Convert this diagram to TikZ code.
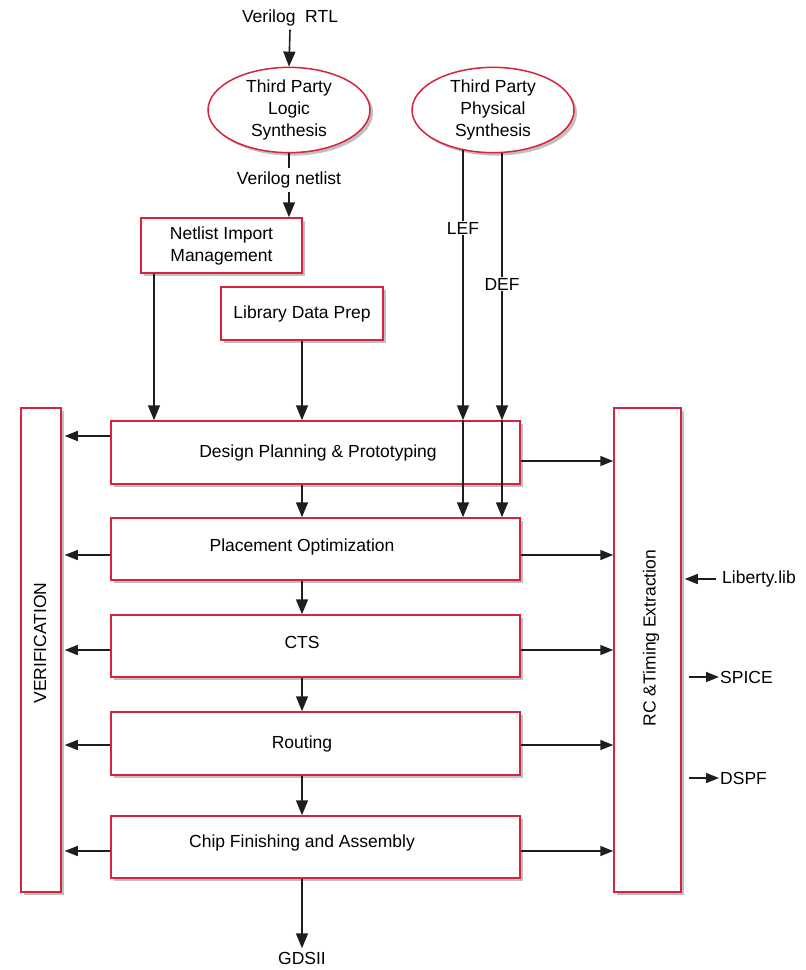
\documentclass[tikz,border=0pt]{standalone}
\usepackage{fontspec}
\setmainfont{Liberation Sans}
\usetikzlibrary{shapes.geometric,shadows,arrows.meta}
\definecolor{boxred}{RGB}{215,35,60}
\definecolor{inkk}{RGB}{30,30,30}
\begin{document}
\begin{tikzpicture}[x=1pt,y=-1pt,
  font=\fontsize{17.5}{22}\selectfont,
  shadowed/.style={drop shadow={shadow xshift=3pt,shadow yshift=-3pt,fill=black!45,opacity=0.55}},
  redbox/.style={draw=boxred,line width=1.5pt,fill=white,shadowed,inner sep=0pt},
  redell/.style={ellipse,draw=boxred,line width=1.5pt,fill=white,shadowed,inner sep=0pt,align=center},
  lbl/.style={inner sep=1pt,fill=white},
  arr/.style={-{Triangle[length=15pt,width=12pt]},line width=1.6pt,draw=inkk},
  sarr/.style={-{Triangle[length=13pt,width=10pt]},line width=1.6pt,draw=inkk},
  ln/.style={line width=1.6pt,draw=inkk}]
\useasboundingbox (0,0) rectangle (806,970);
% top
\node (vrtl) at (290,18) {Verilog\ \ RTL};
\node[redell,minimum width=162pt,minimum height=80pt] (ls) at (289,110) {Third Party\\Logic\\Synthesis};
\node[redell,minimum width=162pt,minimum height=80pt] (ps) at (493,110) {Third Party\\Physical\\Synthesis};
\node (vnet) at (289,180) {Verilog netlist};
\node[redbox,minimum width=161pt,minimum height=55pt,align=center] (ni) at (221.5,245.5) {Netlist Import\\Management};
\node[redbox,minimum width=162pt,minimum height=53pt] (ldp) at (302,313.5) {Library Data Prep};
% side boxes
\node[redbox,minimum width=40pt,minimum height=484pt] (ver) at (41,650) {};
\node[rotate=90] at (40,643) {VERIFICATION};
\node[redbox,minimum width=67pt,minimum height=484pt] (rc) at (647.5,650) {};
\node[rotate=90] at (651,638) {RC \&Timing Extraction};
% main boxes
\node[redbox,minimum width=409pt,minimum height=63pt] (dp) at (315.5,452.5) {};
\node at (318,453) {Design Planning \& Prototyping};
\node[redbox,minimum width=409pt,minimum height=62pt] (po) at (315.5,549) {};
\node at (302,547) {Placement Optimization};
\node[redbox,minimum width=409pt,minimum height=62pt] (cts) at (315.5,646) {};
\node at (302,642) {CTS};
\node[redbox,minimum width=409pt,minimum height=63pt] (rt) at (315.5,743.5) {};
\node at (302,744) {Routing};
\node[redbox,minimum width=409pt,minimum height=62pt] (cf) at (315.5,847) {};
\node at (302,843) {Chip Finishing and Assembly};
\node (gds) at (302,958) {GDSII};
% right labels
\node[anchor=west,inner sep=0pt] (lib) at (722,579) {Liberty.lib};
\node[anchor=west,inner sep=0pt] (spice) at (720,677) {SPICE};
\node[anchor=west,inner sep=0pt] (dspf) at (720,778) {DSPF};
% top connectors
\draw[arr] (vrtl.south) -- (ls.north);
\draw[ln] (ls.south) -- (vnet.north);
\draw[arr] (vnet.south) -- (vnet.south |- ni.north);
\draw[arr] (ni.south -| 154,0) -- (dp.north -| 154,0);
\draw[arr] (ldp.south -| 302,0) -- (dp.north -| 302,0);
% LEF / DEF
\draw[arr] (ps.231 -| 463,0) -- node[lbl,pos=0.29] (lef) {LEF} (dp.north -| 463,0);
\draw[arr] (dp.north -| 463,0) -- (po.north -| 463,0);
\draw[arr] (ps.283 -| 502,0) -- node[lbl,pos=0.49] (def) {DEF} (dp.north -| 502,0);
\draw[arr] (dp.north -| 502,0) -- (po.north -| 502,0);
% vertical chain
\draw[arr] (dp.south -| 302,0) -- (po.north -| 302,0);
\draw[arr] (po.south -| 302,0) -- (cts.north -| 302,0);
\draw[arr] (cts.south -| 302,0) -- (rt.north -| 302,0);
\draw[arr] (rt.south -| 302,0) -- (cf.north -| 302,0);
\draw[arr] (cf.south -| 302,0) -- (gds.north);
% left arrows
\draw[sarr] (dp.west |- 0,436) -- ([xshift=3pt]ver.east |- 0,436);
\draw[sarr] (po.west |- 0,555) -- ([xshift=3pt]ver.east |- 0,555);
\draw[sarr] (cts.west |- 0,650) -- ([xshift=3pt]ver.east |- 0,650);
\draw[sarr] (rt.west |- 0,745) -- ([xshift=3pt]ver.east |- 0,745);
\draw[sarr] (cf.west |- 0,851) -- ([xshift=3pt]ver.east |- 0,851);
% right arrows
\draw[sarr] (dp.east |- 0,461) -- (rc.west |- 0,461);
\draw[sarr] (po.east |- 0,555) -- (rc.west |- 0,555);
\draw[sarr] (cts.east |- 0,650) -- (rc.west |- 0,650);
\draw[sarr] (rt.east |- 0,745) -- (rc.west |- 0,745);
\draw[sarr] (cf.east |- 0,851) -- (rc.west |- 0,851);
% side IO
\draw[sarr] ([xshift=-6pt]lib.west) -- ([xshift=3pt]rc.east |- lib.west);
\draw[sarr] ([xshift=7pt]rc.east |- spice.west) -- ([xshift=-1pt]spice.west);
\draw[sarr] ([xshift=7pt]rc.east |- dspf.west) -- ([xshift=-1pt]dspf.west);
\end{tikzpicture}
\end{document}
